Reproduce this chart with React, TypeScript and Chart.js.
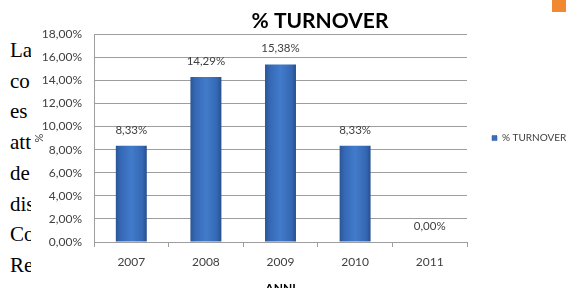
import React, { useEffect, useRef } from "react";
import { Chart, registerables } from "chart.js";

Chart.register(...registerables);

const categories = ["2007", "2008", "2009", "2010", "2011"];
const turnover = [8.33, 14.29, 15.38, 8.33, 0.0];
const seriesName = "% TURNOVER";
const chartTitle = "% TURNOVER";
const xTitle = "ANNI";
const yTitle = "%";
const yMin = 0;
const yMax = 18;
const yStep = 2;
const leftText = ["La", "co", "es", "att", "de", "dis", "Co", "Re"];

const CAT_PCT = 1;
const BAR_PCT = 0.415;
const FONT = "Lato";
const TXT = "#404040";
const GRID = "#9E9E9E";

const fmt = (v: number) => v.toFixed(2).replace(".", ",") + "%";

const valueLabels = {
  id: "valueLabels",
  afterDatasetsDraw(chart: any) {
    const ctx = chart.ctx;
    const meta = chart.getDatasetMeta(0);
    ctx.save();
    ctx.font = `11.5px ${FONT}`;
    ctx.fillStyle = TXT;
    ctx.textAlign = "center";
    ctx.textBaseline = "middle";
    meta.data.forEach((el: any, i: number) => {
      const v = chart.data.datasets[0].data[i];
      ctx.fillText(fmt(v), el.x, el.y - 16);
    });
    ctx.restore();
  },
};

export default function App() {
  const ref = useRef<HTMLCanvasElement>(null);

  useEffect(() => {
    if (!ref.current) return;
    const chart = new Chart(ref.current, {
      type: "bar",
      data: {
        labels: categories,
        datasets: [
          {
            label: seriesName,
            data: turnover,
            categoryPercentage: CAT_PCT,
            barPercentage: BAR_PCT,
            borderWidth: 0,
            backgroundColor: (c: any) => {
              const ch = c.chart;
              const xs = ch.scales && ch.scales.x;
              if (!xs || c.type !== "data") return "#3A6EBD";
              const cx = xs.getPixelForValue(c.dataIndex);
              const w = (xs.width / categories.length) * CAT_PCT * BAR_PCT;
              if (!isFinite(cx) || !isFinite(w)) return "#3A6EBD";
              const g = ch.ctx.createLinearGradient(cx - w / 2, 0, cx + w / 2, 0);
              g.addColorStop(0, "#2A5595");
              g.addColorStop(0.15, "#3568B4");
              g.addColorStop(0.5, "#427BCB");
              g.addColorStop(0.85, "#3568B4");
              g.addColorStop(1, "#27508E");
              return g;
            },
          },
        ],
      },
      options: {
        responsive: false,
        animation: false,
        layout: { padding: { left: 33, right: 13, top: 0, bottom: 0 } },
        plugins: {
          title: {
            display: true,
            text: chartTitle,
            color: "#000",
            font: { family: FONT, size: 21, weight: "bold" },
            padding: { top: 9, bottom: 0 },
          },
          legend: {
            display: true,
            position: "right",
            fullSize: false,
            maxWidth: 100,
            labels: {
              padding: 25,
              boxWidth: 5,
              boxHeight: 5,
              color: TXT,
              font: { family: FONT, size: 10 },
              generateLabels: (ch: any) =>
                Chart.defaults.plugins.legend.labels
                  .generateLabels(ch)
                  .map((l: any) => ({ ...l, fillStyle: "#3A6EBD", strokeStyle: "#2A5595", lineWidth: 0.5 })),
            },
          },
          tooltip: { enabled: false },
        },
        scales: {
          x: {
            afterFit: (s: any) => {
              s.height = 58;
            },
            grid: {
              offset: true,
              drawOnChartArea: false,
              drawTicks: true,
              tickLength: 5,
              color: GRID,
            },
            border: { display: true, color: GRID },
            ticks: { color: TXT, font: { family: FONT, size: 12 }, padding: 8 },
            title: {
              display: true,
              text: xTitle,
              color: "#000",
              font: { family: FONT, size: 12, weight: "bold" },
              padding: { top: 4, bottom: 5 },
            },
          },
          y: {
            min: yMin,
            max: yMax,
            afterFit: (s: any) => {
              s.width = 61;
            },
            grid: { color: GRID, drawTicks: false },
            border: { display: true, color: GRID },
            ticks: {
              stepSize: yStep,
              color: TXT,
              font: { family: FONT, size: 12 },
              padding: 12,
              callback: (v: any) => fmt(Number(v)),
            },
            title: {
              display: true,
              text: yTitle,
              color: TXT,
              font: { family: FONT, size: 11 },
              padding: { top: 0, bottom: 0 },
            },
          },
          spacer: {
            type: "linear",
            position: "right",
            weight: 2000,
            display: true,
            afterFit: (s: any) => {
              s.width = 40;
            },
            grid: { display: false, drawTicks: false },
            border: { display: false },
            ticks: { display: false },
          },
        },
      },
      plugins: [valueLabels],
    } as any);
    chart.update();
    return () => chart.destroy();
  }, []);

  return (
    <div
      style={{
        position: "fixed",
        left: 0,
        top: 0,
        width: 566,
        height: 288,
        overflow: "hidden",
        background: "#fff",
      }}
    >
      <div
        style={{
          position: "absolute",
          left: 10,
          top: 35,
          width: 21,
          overflow: "hidden",
          whiteSpace: "nowrap",
          fontFamily: '"Liberation Serif", serif',
          fontSize: 21,
          lineHeight: "30.7px",
          color: "#000",
        }}
      >
        {leftText.map((t, i) => (
          <div key={i}>{t}</div>
        ))}
      </div>
      <div
        style={{
          position: "absolute",
          left: 552,
          top: 0,
          width: 14,
          height: 12,
          background: "#F0892F",
        }}
      />
      <canvas
        ref={ref}
        width={620}
        height={300}
        style={{ position: "absolute", left: 0, top: 0 }}
      />
    </div>
  );
}
